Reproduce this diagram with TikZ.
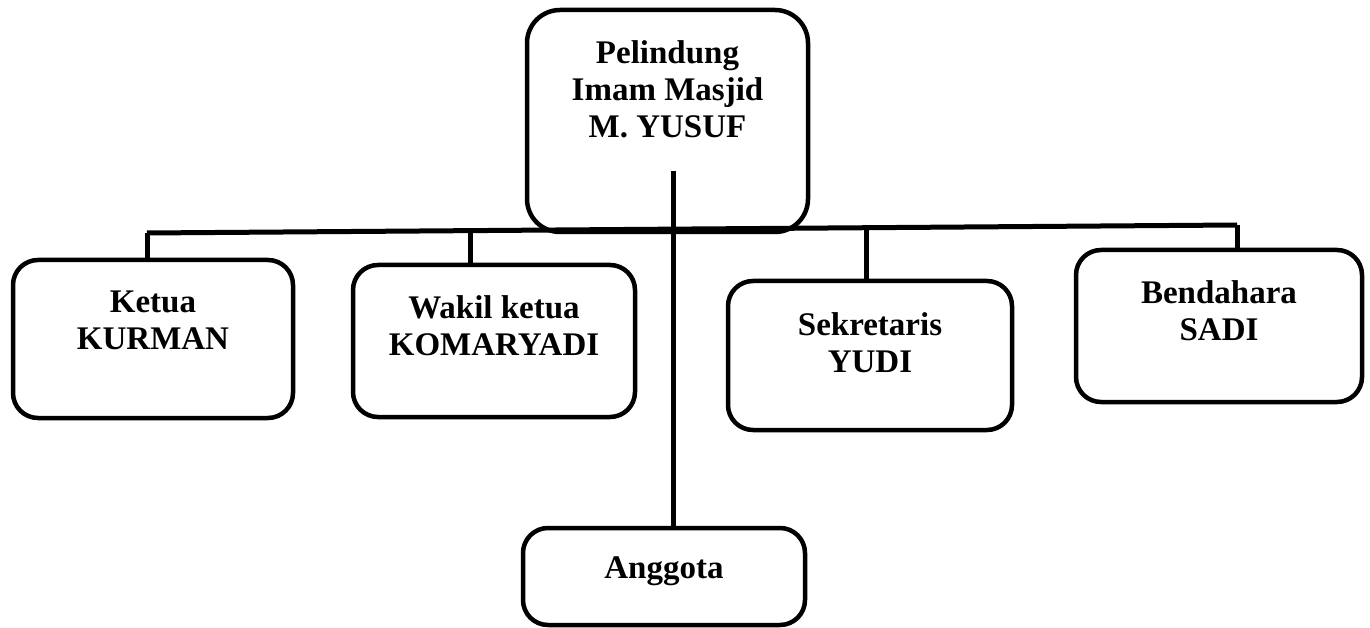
\documentclass[tikz,border=0pt]{standalone}
\usepackage{fontspec}
\setmainfont{Liberation Serif}
\begin{document}
\begin{tikzpicture}[x=1pt,y=-1pt,
  box/.style = {shape=rectangle, rounded corners=25pt,
    draw, line width=4.5pt},
  lbl/.style = {anchor=north, align=center, inner sep=0pt,
    font=\fontsize{33}{37}\selectfont\bfseries},
  link/.style = {draw, line width=5pt}
  ]
  \useasboundingbox (0,0) rectangle (1370,628);
  % boxes
  \node[box, rounded corners=33pt, minimum width=281pt, minimum height=222pt] (pelindung) at (667.5,121) {};
  \node[box, minimum width=280pt, minimum height=158pt] (ketua) at (153,339) {};
  \node[box, minimum width=282pt, minimum height=152pt] (wakil) at (494,341) {};
  \node[box, minimum width=284pt, minimum height=149pt] (sekretaris) at (870,355.5) {};
  \node[box, minimum width=286pt, minimum height=152pt] (bendahara) at (1219,326) {};
  \node[box, minimum width=282pt, minimum height=97pt] (anggota) at (664,576.5) {};
  % texts
  \node[lbl] (pelindungT) at ([yshift=-33pt]pelindung.north) {Pelindung\\Imam Masjid\\M. YUSUF};
  \node[lbl] (ketuaT) at ([yshift=-33pt]ketua.north) {Ketua\\KURMAN};
  \node[lbl] (wakilT) at ([yshift=-33pt]wakil.north) {Wakil ketua\\KOMARYADI};
  \node[lbl] (sekretarisT) at ([yshift=-34pt]sekretaris.north) {Sekretaris\\YUDI};
  \node[lbl] (bendaharaT) at ([yshift=-33pt]bendahara.north) {Bendahara\\SADI};
  \node[lbl] (anggotaT) at ([yshift=-31pt]anggota.north) {Anggota};
  % lines
  \coordinate (busL) at (147,233);
  \coordinate (busR) at (1237,225);
  \coordinate (busW) at (470,230.6);
  \coordinate (busS) at (866,227.7);
  \coordinate (top) at (673,171);
  \draw[link] (busL) -- (busR);
  \draw[link] (busL) -- (busL |- ketua.north);
  \draw[link] (busW) -- (busW |- wakil.north);
  \draw[link] (busS) -- (busS |- sekretaris.north);
  \draw[link] (busR) -- (busR |- bendahara.north);
  \draw[link] (top) -- (top |- anggota.north);
\end{tikzpicture}
\end{document}
